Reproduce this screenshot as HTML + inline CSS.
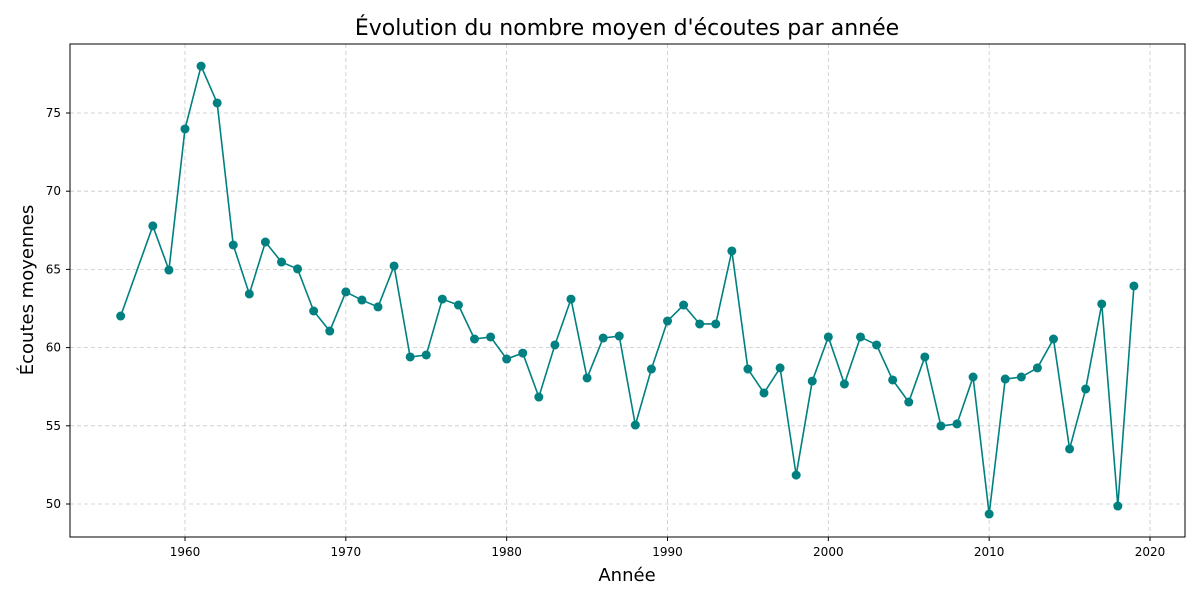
<!DOCTYPE html>
<html><head><meta charset="utf-8"><style>
body{margin:0;background:#fff;}
svg text{font-family:"DejaVu Sans","Liberation Sans",sans-serif;}
</style></head><body>
<svg id="chart" width="1200" height="600" xmlns="http://www.w3.org/2000/svg">
<rect width="1200" height="600" fill="#fff"/>
<text x="627" y="35" font-size="22" text-anchor="middle" fill="#000">Évolution du nombre moyen d'écoutes par année</text>
<text x="627" y="581" font-size="18" text-anchor="middle">Année</text>
<text transform="translate(33,290) rotate(-90)" font-size="18" text-anchor="middle">Écoutes moyennes</text>
<g id="grid"></g><g id="series"></g>
<rect x="70" y="44" width="1115" height="493" fill="none" stroke="#000" stroke-width="1"/>
<g id="axes"></g>
</svg>
<script>
const years=[1956,1958,1959,1960,1961,1962,1963,1964,1965,1966,1967,1968,1969,1970,1971,1972,1973,1974,1975,1976,1977,1978,1979,1980,1981,1982,1983,1984,1985,1986,1987,1988,1989,1990,1991,1992,1993,1994,1995,1996,1997,1998,1999,2000,2001,2002,2003,2004,2005,2006,2007,2008,2009,2010,2011,2012,2013,2014,2015,2016,2017,2018,2019];
const plays=[62.02,67.78,64.96,73.98,78.0,75.64,66.56,63.43,66.75,65.47,65.03,62.34,61.06,63.56,63.04,62.6,65.22,59.4,59.53,63.1,62.72,60.55,60.68,59.27,59.65,56.84,60.17,63.1,58.06,60.61,60.74,55.05,58.63,61.7,62.72,61.51,61.51,66.18,58.63,57.1,58.7,51.85,57.86,60.68,57.67,60.68,60.17,57.93,56.52,59.4,54.99,55.12,58.12,49.36,57.99,58.12,58.7,60.55,53.52,57.35,62.79,49.87,63.94];
const xTicks=[1960,1970,1980,1990,2000,2010,2020];
const yTicks=[50,55,60,65,70,75];
const NS="http://www.w3.org/2000/svg";
const X=v=>185+(v-1960)*(965/60);
const Y=v=>113+(75-v)*(391/25);
const grid=document.getElementById('grid'),axes=document.getElementById('axes'),ser=document.getElementById('series');
function mk(tag,at,parent){const e=document.createElementNS(NS,tag);for(const k in at)e.setAttribute(k,at[k]);parent.appendChild(e);return e;}
xTicks.forEach(t=>{const x=X(t);
 const g=mk('line',{x1:x,x2:x,y1:44,y2:537,stroke:'#b0b0b0','stroke-width':0.8,'stroke-dasharray':'4,3','stroke-opacity':0.7},grid);
 
 
 mk('line',{x1:x,x2:x,y1:537,y2:541,stroke:'#000'},axes);
 const tx=mk('text',{x:x,y:556,'font-size':12,'text-anchor':'middle'},axes);tx.textContent=t;
 
 
});
yTicks.forEach(t=>{const y=Y(t);
 const g=mk('line',{x1:70,x2:1185,y1:y,y2:y,stroke:'#b0b0b0','stroke-width':0.8,'stroke-dasharray':'4,3','stroke-opacity':0.7},grid);
 
 
 mk('line',{x1:66,x2:70,y1:y,y2:y,stroke:'#000'},axes);
 const tx=mk('text',{x:61,y:y+4,'font-size':12,'text-anchor':'end'},axes);tx.textContent=t;
 
 
});
const pts=years.map((yr,i)=>X(yr)+','+Y(plays[i])).join(' ');
const pl=mk('polyline',{points:pts,fill:'none',stroke:'#008080','stroke-width':1.6},ser);


years.forEach((yr,i)=>{const c=mk('circle',{cx:X(yr),cy:Y(plays[i]),r:4.5,fill:'#008080'},ser);
 
 
});
</script>
</body></html>
